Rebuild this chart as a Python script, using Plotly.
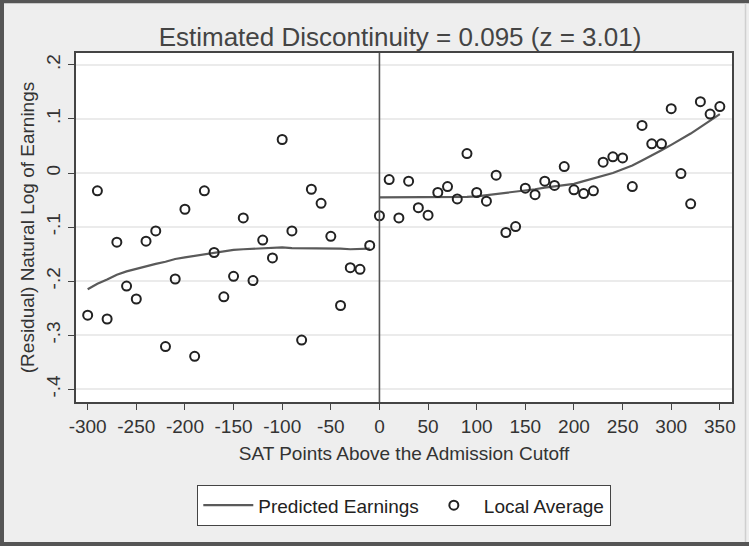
import plotly.graph_objects as go

# ---- data ----
x_left = [-300, -290, -280, -270, -260, -250, -240, -230, -220, -210,
          -200, -190, -180, -170, -160, -150, -140, -130, -120, -110,
          -100, -90, -80, -70, -60, -50, -40, -30, -20, -10]
avg_left = [-0.263, -0.033, -0.270, -0.128, -0.209, -0.233, -0.126, -0.107, -0.321, -0.196,
            -0.067, -0.339, -0.033, -0.147, -0.229, -0.191, -0.083, -0.199, -0.124, -0.157,
            0.062, -0.107, -0.309, -0.030, -0.056, -0.117, -0.245, -0.175, -0.178, -0.134]
fit_left = [-0.215, -0.205, -0.197, -0.188, -0.182, -0.177, -0.172, -0.168, -0.164, -0.159,
            -0.156, -0.153, -0.150, -0.147, -0.145, -0.142, -0.141, -0.140, -0.139, -0.138,
            -0.1375, -0.139, -0.139, -0.140, -0.139, -0.139, -0.140, -0.141, -0.141, -0.140]

x_right = [0, 10, 20, 30, 40, 50, 60, 70, 80, 90,
           100, 110, 120, 130, 140, 150, 160, 170, 180, 190,
           200, 210, 220, 230, 240, 250, 260, 270, 280, 290,
           300, 310, 320, 330, 340, 350]
avg_right = [-0.079, -0.012, -0.083, -0.015, -0.064, -0.078, -0.036, -0.025, -0.048, 0.036,
             -0.036, -0.052, -0.004, -0.110, -0.099, -0.028, -0.040, -0.015, -0.023, 0.012,
             -0.031, -0.038, -0.033, 0.020, 0.030, 0.028, -0.025, 0.088, 0.054, 0.054,
             0.119, -0.001, -0.057, 0.132, 0.109, 0.123]
fit_right = [-0.045, -0.045, -0.045, -0.045, -0.045, -0.045, -0.045, -0.045, -0.045, -0.044,
             -0.043, -0.041, -0.039, -0.037, -0.035, -0.032, -0.030, -0.027, -0.025, -0.022,
             -0.020, -0.015, -0.010, -0.006, 0.000, 0.007, 0.014, 0.023, 0.032, 0.042,
             0.052, 0.062, 0.073, 0.085, 0.097, 0.109]

x_ticks = [-300, -250, -200, -150, -100, -50, 0, 50, 100, 150, 200, 250, 300, 350]
x_tick_labels = ["-300", "-250", "-200", "-150", "-100", "-50", "0",
                 "50", "100", "150", "200", "250", "300", "350"]
y_ticks = [0.2, 0.1, 0.0, -0.1, -0.2, -0.3, -0.4]
y_tick_labels = [".2", ".1", "0", "-.1", "-.2", "-.3", "-.4"]

title_text = "Estimated Discontinuity = 0.095 (z = 3.01)"
x_title = "SAT Points Above the Admission Cutoff"
y_title = "(Residual) Natural Log of Earnings"

FONT = "Liberation Sans, Arial, sans-serif"
LINE_C = "#5a5a5a"
MARK_C = "#222222"
TXT_C = "#333333"

fig = go.Figure()
fig.add_trace(go.Scatter(x=x_left, y=fit_left, mode="lines", name="Predicted Earnings",
                         line=dict(color=LINE_C, width=2.2), showlegend=True))
fig.add_trace(go.Scatter(x=x_right, y=fit_right, mode="lines", name="Predicted Earnings",
                         line=dict(color=LINE_C, width=2.2), showlegend=False))
fig.add_trace(go.Scatter(x=x_left + x_right, y=avg_left + avg_right, mode="markers",
                         name="Local Average",
                         marker=dict(symbol="circle-open", size=9, color=MARK_C,
                                     line=dict(width=2, color=MARK_C))))

W, H = 749, 546
L, R, T, B = 76, 17, 53, 144
pw, ph = W - L - R, H - T - B

def px2x(px):
    return (px - L) / pw

def py2y(py):
    return (H - B - py) / ph

shapes = [
    dict(type="line", xref="x", yref="paper", x0=0, x1=0, y0=0, y1=1,
         line=dict(color="#555555", width=1.6), layer="above"),
    # outer picture border
    dict(type="line", xref="paper", yref="paper", x0=px2x(0), x1=px2x(W), y0=py2y(1.5), y1=py2y(1.5),
         line=dict(color="#555555", width=3.5)),
    dict(type="line", xref="paper", yref="paper", x0=px2x(2), x1=px2x(2), y0=py2y(0), y1=py2y(H),
         line=dict(color="#555555", width=4)),
    dict(type="line", xref="paper", yref="paper", x0=px2x(0), x1=px2x(W), y0=py2y(H - 2), y1=py2y(H - 2),
         line=dict(color="#555555", width=4)),
    dict(type="line", xref="paper", yref="paper", x0=px2x(745.5), x1=px2x(745.5), y0=py2y(3), y1=py2y(H - 4),
         line=dict(color="#cfcfcf", width=1.5)),
]

fig.update_layout(
    width=W, height=H,
    margin=dict(l=L, r=R, t=T, b=B, pad=0, autoexpand=False),
    paper_bgcolor="#eeeeee",
    plot_bgcolor="#ffffff",
    font=dict(family=FONT, size=19, color=TXT_C),
    title=dict(text=title_text, x=(L + pw / 2 - 4) / W, xref="container", xanchor="center",
               y=1 - 37 / H, yref="container", yanchor="middle",
               font=dict(size=26, color="#444444", family=FONT)),
    xaxis=dict(range=[-312, 362.5], tickvals=x_ticks, ticktext=x_tick_labels,
               ticks="outside", ticklen=6, tickwidth=1.3,
               tickcolor="#444444", showgrid=False, zeroline=False,
               showline=True, linecolor="#444444", linewidth=2, mirror=True,
               tickfont=dict(size=19, color=TXT_C), automargin=False,
               title=dict(text=x_title, font=dict(size=19, color=TXT_C), standoff=11)),
    yaxis=dict(range=[-0.4235, 0.222], tickvals=y_ticks, ticktext=y_tick_labels, tickangle=-90,
               ticks="outside", ticklen=6, tickwidth=1.3, tickcolor="#444444",
               showgrid=True, gridcolor="#ebebeb", gridwidth=1.5, zeroline=False,
               showline=True, linecolor="#444444", linewidth=2, mirror=True,
               tickfont=dict(size=19, color=TXT_C), automargin=False,
               title=dict(text=y_title, font=dict(size=19, color=TXT_C), standoff=4)),
    legend=dict(orientation="h", x=0.5, xanchor="center", y=py2y(485), yanchor="top",
                bgcolor="#ffffff", bordercolor="#444444", borderwidth=1.3,
                itemwidth=50,
                font=dict(size=19, color="#222222")),
    shapes=shapes,
    showlegend=True,
)

fig.write_html("out.html", config={"displayModeBar": False},
               post_script="document.body.style.margin='0';document.body.style.overflow='hidden';")
